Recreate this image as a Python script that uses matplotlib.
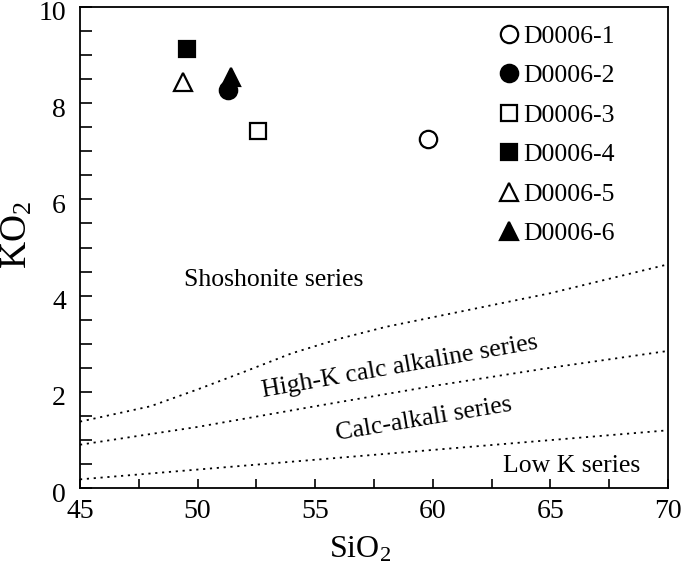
import matplotlib
matplotlib.use("Agg")
import matplotlib.pyplot as plt
from matplotlib.ticker import MultipleLocator
from matplotlib.transforms import ScaledTranslation

plt.rcParams['font.family'] = ['Liberation Serif', 'DejaVu Serif']
plt.rcParams['mathtext.fontset'] = 'custom'
plt.rcParams['mathtext.rm'] = 'Liberation Serif'

# Samples
samples = ["D0006-1", "D0006-2", "D0006-3", "D0006-4", "D0006-5", "D0006-6"]
sio2 = [59.8, 51.3, 52.55, 49.55, 49.4, 51.4]
k2o = [7.25, 8.27, 7.42, 9.12, 8.45, 8.55]
markers = ["o", "o", "s", "s", "^", "^"]
filled = [False, True, False, True, False, True]

# Boundary lines
shosh_x = [45, 48, 50, 52, 54, 56, 58, 60, 65, 70]
shosh_y = [1.38, 1.70, 2.05, 2.42, 2.80, 3.10, 3.35, 3.55, 4.05, 4.65]
highk_x = [45, 50, 55, 60, 65, 70]
highk_y = [0.90, 1.27, 1.70, 2.12, 2.50, 2.85]
lowk_x = [45, 70]
lowk_y = [0.18, 1.20]

fig = plt.figure(figsize=(6.85, 5.68), dpi=100)
ax = fig.add_axes([0.1168, 0.1408, 0.8584, 0.8469])

dot = (0, (1.2, 2.6))
for xs, ys in [(shosh_x, shosh_y), (highk_x, highk_y), (lowk_x, lowk_y)]:
    ax.plot(xs, ys, color='black', lw=1.3, linestyle=dot)

sizes = {"o": 12.5, "s": 11.5, "^": 12.5}
for i in range(len(samples)):
    ax.plot(sio2[i], k2o[i], linestyle='none', marker=markers[i], markersize=sizes[markers[i]],
            markerfacecolor='black' if filled[i] else 'white',
            markeredgecolor='black', markeredgewidth=1.6, label=samples[i])

fs_reg = 18.5
ax.text(53.25, 4.19, "Shoshonite series", fontsize=fs_reg, ha='center', va='baseline')
ax.text(58.6, 2.52, "High-K calc alkaline series", fontsize=fs_reg, ha='center', va='center',
        rotation=10, rotation_mode='anchor')
ax.text(59.63, 1.42, "Calc-alkali series", fontsize=fs_reg, ha='center', va='center',
        rotation=9.5, rotation_mode='anchor')
ax.text(65.9, 0.33, "Low K series", fontsize=fs_reg, ha='center', va='baseline')

ax.set_xlim(45, 70)
ax.set_ylim(0, 10)
ax.xaxis.set_major_locator(MultipleLocator(5))
ax.xaxis.set_minor_locator(MultipleLocator(2.5))
ax.yaxis.set_major_locator(MultipleLocator(2))
ax.yaxis.set_minor_locator(MultipleLocator(0.5))
ax.tick_params(axis='both', which='both', direction='in', width=1.2, labelsize=20)
ax.tick_params(axis='x', which='both', length=6.7, pad=8)
ax.tick_params(axis='y', which='both', length=8.4, pad=10)
for s in ax.spines.values():
    s.set_linewidth(1.3)

# y tick labels sit slightly below their ticks in the reference
shift = ScaledTranslation(0, -4 / 100, fig.dpi_scale_trans)
for tick in ax.yaxis.get_major_ticks():
    tick.label1.set_transform(tick.label1.get_transform() + shift)

ax.set_xlabel(r"$\mathregular{SiO_2}$", fontsize=23, va='center', ha='center')
ax.xaxis.set_label_coords(0.476, -0.128)
ax.set_ylabel(r"$\mathregular{KO_2}$", fontsize=27, va='center', ha='center')
ax.yaxis.set_label_coords(-0.107, 0.526)

fsl = 18.5
ax.legend(loc='upper left', bbox_to_anchor=(501/685, 1 - 25/568), bbox_transform=fig.transFigure,
          frameon=False, fontsize=fsl, handlelength=0.62, handletextpad=0.25,
          labelspacing=0.64, borderpad=0, borderaxespad=0, numpoints=1)

fig.savefig("out.png", dpi=100)
